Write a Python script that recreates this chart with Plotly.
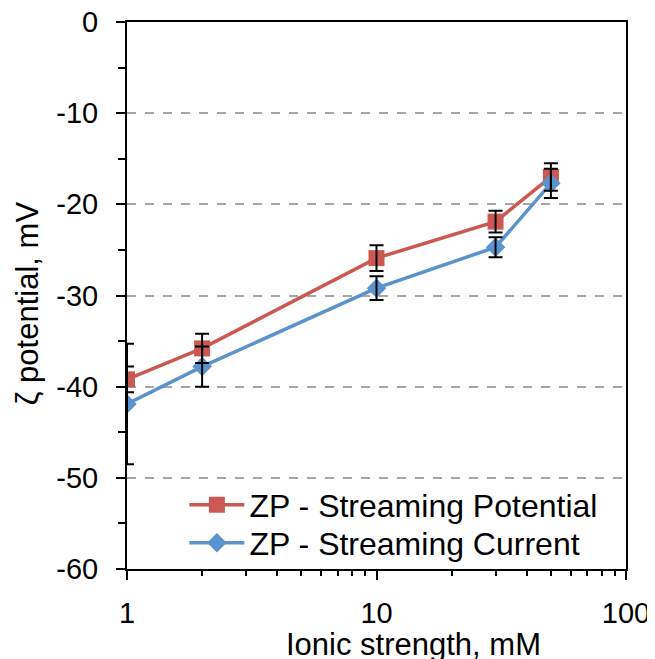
import plotly.graph_objects as go

ionic_strength = [1, 2, 10, 30, 50]
zp_potential = [-39.2, -35.8, -25.9, -21.9, -17.0]
zp_potential_err = [1.4, 1.6, 1.4, 1.2, 1.5]
zp_current = [-41.9, -37.8, -29.2, -24.7, -17.7]
zp_current_err = [6.6, 2.2, 1.3, 1.1, 1.6]

names = ["ZP - Streaming Potential", "ZP - Streaming Current"]
y_tickvals = [0, -10, -20, -30, -40, -50, -60]
y_ticktext = ["0", "-10", "-20", "-30", "-40", "-50", "-60"]
x_tickvals = [1, 10, 100]
x_ticktext = ["1", "10", "100"]
x_title = "Ionic strength, mM"
y_title = "ζ potential, mV"

red = "#CB5852"
blue = "#5B93CD"
font = "Liberation Sans, Arial, sans-serif"

fig = go.Figure()
fig.add_trace(go.Scatter(x=ionic_strength, y=zp_potential, mode="lines+markers",
                         name=names[0], legend="legend",
                         line=dict(color=red, width=3.5),
                         marker=dict(symbol="square", size=16, color=red)))
fig.add_trace(go.Scatter(x=ionic_strength, y=zp_current, mode="lines+markers",
                         name=names[1], legend="legend2",
                         line=dict(color=blue, width=3.5),
                         marker=dict(symbol="diamond", size=15, color=blue)))
# error bars drawn above markers
for yv, ev in [(zp_potential, zp_potential_err), (zp_current, zp_current_err)]:
    fig.add_trace(go.Scatter(x=ionic_strength, y=yv, mode="markers", showlegend=False,
                             hoverinfo="skip",
                             marker=dict(size=1, color="rgba(0,0,0,0)"),
                             error_y=dict(type="data", array=ev, visible=True,
                                          color="black", thickness=2, width=7)))

legend_style = dict(x=0.115, xanchor="left", yanchor="middle",
                    bgcolor="rgba(0,0,0,0)", font=dict(size=32), itemwidth=55)

fig.update_layout(
    width=655, height=659,
    # page has an 8px body margin; compensate so the plot area sits at 127..626 x 22..569
    margin=dict(l=119, r=37, t=14, b=98),
    paper_bgcolor="white", plot_bgcolor="white",
    font=dict(family=font, size=29, color="black"),
    showlegend=True,
    legend=dict(y=0.117, **legend_style),
    legend2=dict(y=0.0475, **legend_style),
    xaxis=dict(type="log", range=[0, 2], tickvals=x_tickvals, ticktext=x_ticktext,
               automargin=False, tickfont=dict(size=29), ticklabelstandoff=8,
               ticklabeloverflow="allow",
               showline=True, linecolor="black", linewidth=2, mirror=True,
               ticks="outside", ticklen=9, tickwidth=2, tickcolor="black",
               minor=dict(ticks="outside", ticklen=5, tickwidth=2, tickcolor="black",
                          tickvals=[2, 3, 4, 5, 6, 7, 8, 9, 20, 30, 40, 50, 60, 70, 80, 90],
                          showgrid=False),
               showgrid=False, zeroline=False),
    yaxis=dict(range=[-60, 0], tickvals=y_tickvals, ticktext=y_ticktext,
               automargin=False, tickfont=dict(size=29), ticklabelstandoff=12,
               ticklabeloverflow="allow",
               showline=True, linecolor="black", linewidth=2, mirror=True,
               ticks="outside", ticklen=9, tickwidth=2, tickcolor="black",
               minor=dict(ticks="outside", ticklen=7, tickwidth=2, tickcolor="black",
                          dtick=5, tick0=0, showgrid=False),
               showgrid=True, gridcolor="#A6A6A6", gridwidth=2, griddash="dash",
               zeroline=False),
    annotations=[
        dict(text=x_title, xref="paper", yref="paper", x=0.575, y=0, yshift=-56,
             xanchor="center", yanchor="top", showarrow=False, font=dict(size=31)),
        dict(text=y_title, xref="paper", yref="paper", x=-0.2004, y=0.486,
             xanchor="center", yanchor="middle", textangle=-90, showarrow=False,
             font=dict(size=31)),
    ],
)

fig.write_html("out.html")
